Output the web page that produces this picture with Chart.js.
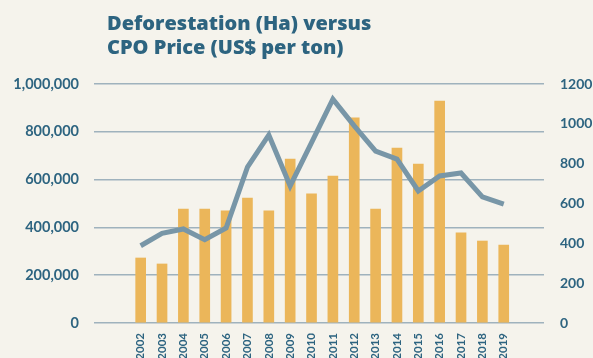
<!DOCTYPE html>
<html>
<head>
<meta charset="utf-8">
<title>Deforestation vs CPO Price</title>
<script src="https://cdn.jsdelivr.net/npm/chart.js@4.4.1/dist/chart.umd.min.js"></script>
<style>
    html, body {
        margin: 0;
        padding: 0;
        background: #f5f3ec;
    }
    #wrap {
        position: relative;
        width: 593px;
        height: 358px;
        overflow: hidden;
    }
    #chartTitle {
        position: absolute;
        left: 107px;
        top: 11px;
        margin: 0;
        font-family: "Open Sans", sans-serif;
        font-weight: 800;
        font-size: 20px;
        line-height: 24px;
        color: #2d6480;
    }
</style>
</head>
<body>
<div id="wrap">
    <canvas id="deforestChart"></canvas>
    <div id="chartTitle">Deforestation (Ha) versus<br>CPO Price (US$ per ton)</div>
</div>
<script>
const years = [2002, 2003, 2004, 2005, 2006, 2007, 2008, 2009, 2010,
    2011, 2012, 2013, 2014, 2015, 2016, 2017, 2018, 2019];
// hectares cleared per year
const deforestation = [272000, 247000, 477000, 477000, 469000, 523000, 469000, 686000, 540000,
    615000, 858000, 477000, 732000, 665000, 929000, 377000, 343000, 326000];
// crude palm oil price, US$ per ton
const cpoPrice = [388, 450, 472, 418, 477, 783, 944, 688, 906,
    1124, 990, 863, 823, 663, 738, 753, 633, 597];
const leftTicks = [0, 200000, 400000, 600000, 800000, 1000000];
const rightTicks = [0, 200, 400, 600, 800, 1000, 1200];

const textColor = '#2d6480';
const gridColor = '#9fb2bd';

function createChart() {
    const ctx = document.getElementById('deforestChart');

    const data = {
        datasets: [
            {
                type: 'line',
                label: 'CPO Price (US$ per ton)',
                data: years.map((yr, i) => ({ x: yr, y: cpoPrice[i] })),
                yAxisID: 'y1',
                borderColor: '#7896a7',
                borderWidth: 5,
                pointRadius: 0,
                tension: 0,
                order: 0
            },
            {
                type: 'bar',
                label: 'Deforestation (Ha)',
                data: years.map((yr, i) => ({ x: yr, y: deforestation[i] })),
                yAxisID: 'y',
                backgroundColor: '#ebb65a',
                barThickness: 10,
                order: 1
            }
        ]
    };

    const config = {
        data: data,
        options: {
            responsive: true,
            maintainAspectRatio: false,
            animation: false,
            layout: { padding: { top: 84, left: 0, right: 0, bottom: 0 } },
            plugins: {
                legend: { display: false },
                tooltip: { enabled: false }
            },
            scales: {
                x: {
                    type: 'linear',
                    min: 2000.4,
                    max: 2020.3,
                    grid: { display: false },
                    border: { display: false },
                    afterBuildTicks: (scale) => {
                        scale.ticks = years.map(v => ({ value: v }));
                    },
                    afterFit: (scale) => { scale.height = 35; },
                    ticks: {
                        autoSkip: false,
                        minRotation: 90,
                        maxRotation: 90,
                        padding: 2,
                        color: textColor,
                        font: { family: 'Lato', size: 11.5, weight: 'bold' },
                        callback: (v) => String(v)
                    }
                },
                y: {
                    position: 'left',
                    min: 0,
                    max: 1000000,
                    grid: { color: gridColor, lineWidth: 1.5, drawTicks: false },
                    border: { display: false },
                    afterBuildTicks: (scale) => {
                        scale.ticks = leftTicks.map(v => ({ value: v }));
                    },
                    afterFit: (scale) => { scale.width = 94; },
                    ticks: {
                        padding: 15,
                        color: textColor,
                        font: { family: 'Lato', size: 14.5, weight: 'bold' },
                        callback: (v) => v.toLocaleString('en-US')
                    }
                },
                y1: {
                    position: 'right',
                    min: 0,
                    max: 1200,
                    grid: { display: false },
                    border: { display: false },
                    afterBuildTicks: (scale) => {
                        scale.ticks = rightTicks.map(v => ({ value: v }));
                    },
                    afterFit: (scale) => { scale.width = 49; },
                    ticks: {
                        padding: 8,
                        color: textColor,
                        font: { family: 'Lato', size: 14, weight: 'bold' },
                        callback: (v) => String(v)
                    }
                }
            }
        }
    };

    new Chart(ctx, config);
}

createChart();
</script>
</body>
</html>
